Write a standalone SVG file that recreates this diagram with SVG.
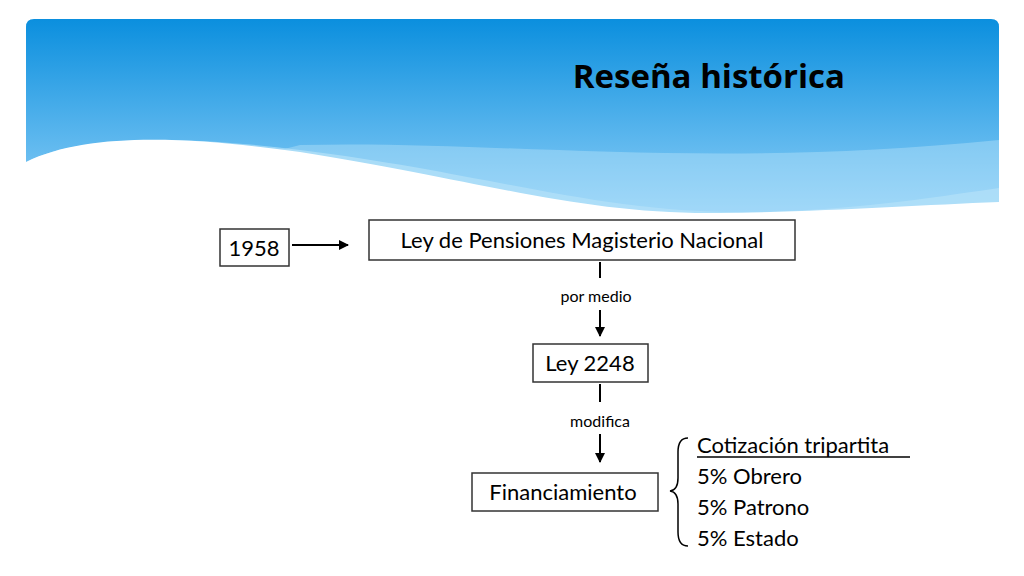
<svg xmlns="http://www.w3.org/2000/svg" width="1024" height="576" viewBox="0 0 1024 576">
<defs>
<linearGradient id="sky" x1="0" y1="0" x2="0" y2="1">
<stop offset="0" stop-color="#0b8fde"/><stop offset="1" stop-color="#8fd0f8"/>
</linearGradient>
<clipPath id="ban"><path d="M26,27 Q26,19 34,19 L991,19 Q999,19 999,27 L999,215 L26,215 Z"/></clipPath>
<marker id="ah" markerWidth="10" markerHeight="10" refX="9" refY="5" orient="auto" markerUnits="userSpaceOnUse"><path d="M0,0 L10,5 L0,10 Z" fill="#000"/></marker>
<style>
.b{fill:#fff;stroke:#333;stroke-width:1.5}
.t{font-family:Lato,"Open Sans",sans-serif;font-size:22px;fill:#000}
.s{font-family:Lato,"Open Sans",sans-serif;font-size:16px;fill:#000}
.c{stroke:#000;stroke-width:2;fill:none}
</style>
</defs>
<rect width="1024" height="576" fill="#fff"/>
<g clip-path="url(#ban)">
<rect x="26" y="19" width="973" height="196" fill="url(#sky)"/>
<path d="M26,162 C80,135 180,135 300,150 C500,175 600,215 760,212 C860,210 950,195 999,188 L999,215 L26,215 Z" fill="#a9dcf8" opacity="0.8"/>
<path d="M300,145 C500,140 700,170 999,140 L999,215 L26,215 Z" fill="#bfe6fb" opacity="0.4"/>
<path d="M26,162 C90,130 200,138 300,152 C480,180 580,215 720,213 C820,212 920,205 999,202 L999,215 L26,215 Z" fill="#fff"/>
</g>
<text x="845" y="88" text-anchor="end" font-family="'Open Sans',Lato,sans-serif" font-weight="bold" font-size="33" fill="#000">Reseña histórica</text>
<g id="connectors">
<line class="c" x1="292" y1="245" x2="348" y2="245" marker-end="url(#ah)"/>
<line class="c" x1="600" y1="262" x2="600" y2="278"/>
<line class="c" x1="600" y1="310" x2="600" y2="336" marker-end="url(#ah)"/>
<line class="c" x1="600" y1="384" x2="600" y2="402"/>
<line class="c" x1="600" y1="434" x2="600" y2="462" marker-end="url(#ah)"/>
<text class="s" x="596" y="302" text-anchor="middle">por medio</text>
<text class="s" x="600" y="427" text-anchor="middle">modifica</text>
<path d="M688,438 Q678,438 678,452 L678,478 Q678,490 670,491 Q678,492 678,504 L678,532 Q678,546 688,546" stroke="#000" stroke-width="1.5" fill="none"/>
</g>
<g id="n1958"><rect class="b" x="220" y="229" width="69" height="37"/><text class="t" x="254" y="256" text-anchor="middle">1958</text></g>
<g id="nLey"><rect class="b" x="369" y="220" width="426" height="40"/><text class="t" x="582" y="248" text-anchor="middle">Ley de Pensiones Magisterio Nacional</text></g>
<g id="n2248"><rect class="b" x="533" y="344" width="115" height="38"/><text class="t" x="590" y="371" text-anchor="middle">Ley 2248</text></g>
<g id="nFin"><rect class="b" x="472" y="473" width="186" height="38"/><text class="t" x="563" y="500" text-anchor="middle">Financiamiento</text></g>
<g id="nList">
<text class="t" x="697" y="453">Cotización tripartita</text>
<line x1="697" y1="457" x2="910" y2="457" stroke="#000" stroke-width="1.5"/>
<text class="t" x="697" y="484">5% Obrero</text>
<text class="t" x="697" y="515">5% Patrono</text>
<text class="t" x="697" y="546">5% Estado</text>
</g>
</svg>
